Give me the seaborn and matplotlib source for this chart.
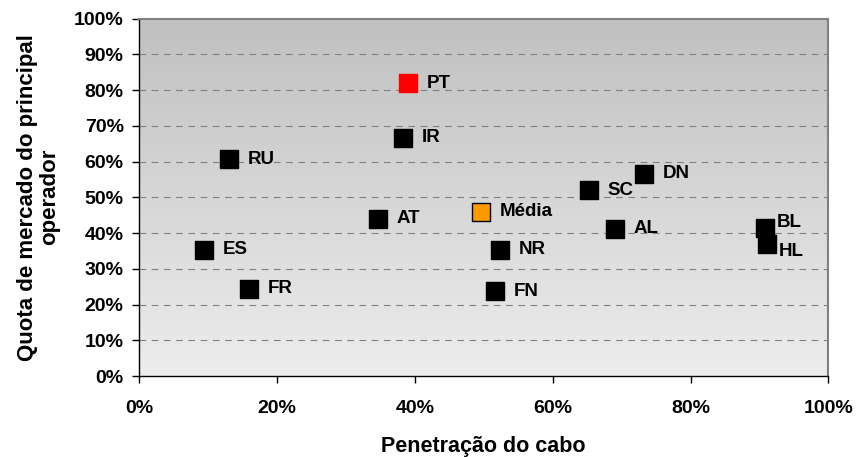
import numpy as np
import pandas as pd
import matplotlib
matplotlib.use('Agg')
import matplotlib.pyplot as plt
from matplotlib.ticker import PercentFormatter
import seaborn as sns

# data
paises = ["PT", "IR", "RU", "AT", "Média", "ES", "FR", "NR", "FN", "SC", "DN", "AL", "BL", "HL"]
penetracao = [0.390, 0.383, 0.131, 0.346, 0.496, 0.094, 0.160, 0.524, 0.517, 0.653, 0.732, 0.690, 0.908, 0.911]
quota = [0.819, 0.667, 0.606, 0.440, 0.460, 0.354, 0.244, 0.354, 0.238, 0.520, 0.566, 0.412, 0.415, 0.369]
grupo = ["PT", "Outros", "Outros", "Outros", "Média", "Outros", "Outros", "Outros", "Outros",
         "Outros", "Outros", "Outros", "Outros", "Outros"]

df = pd.DataFrame({"pais": paises, "x": penetracao, "y": quota, "grupo": grupo})

sns.set_style("white")
plt.rcParams['font.family'] = ['Liberation Sans', 'DejaVu Sans']
plt.rcParams['font.weight'] = 'bold'
plt.rcParams['text.color'] = 'black'
plt.rcParams['axes.labelcolor'] = 'black'
plt.rcParams['xtick.color'] = 'black'
plt.rcParams['ytick.color'] = 'black'

fig = plt.figure(figsize=(8.58, 4.57), dpi=100)
ax = fig.add_axes([0.162, 0.177, 0.8035, 0.7825])

# gradient background (dark grey on top -> light grey at the bottom)
grad = np.linspace(0, 1, 256).reshape(-1, 1)
cmap = matplotlib.colors.LinearSegmentedColormap.from_list("bg", ["#ededed", "#c0c0c0"])
ax.imshow(grad, extent=[0, 1, 0, 1], origin='lower', aspect='auto', cmap=cmap,
          transform=ax.transAxes, zorder=0)

palette = {"Outros": "black", "PT": "#ff0000", "Média": "#ff9900"}
edges = {"Outros": "black", "PT": "#ff0000", "Média": "black"}
for g in ["Outros", "PT", "Média"]:
    sub = df[df["grupo"] == g]
    sns.scatterplot(data=sub, x="x", y="y", ax=ax, marker="s", s=170,
                    color=palette[g], edgecolor=edges[g], linewidth=1.0,
                    zorder=3, legend=False)

# label offsets in points
offsets = {"BL": (8.5, 3.5), "HL": (8.5, -5.5)}
for _, r in df.iterrows():
    dx, dy = offsets.get(r["pais"], (13.5, 0))
    ax.annotate(r["pais"], (r["x"], r["y"]), xytext=(dx, dy), textcoords="offset points",
                ha="left", va="center", fontsize=13.5, fontweight="bold", zorder=4)

ax.set_xlim(0, 1)
ax.set_ylim(0, 1)
ax.set_xticks(np.arange(0, 1.01, 0.2))
ax.set_yticks(np.arange(0, 1.01, 0.1))
ax.xaxis.set_major_formatter(PercentFormatter(1.0, decimals=0))
ax.yaxis.set_major_formatter(PercentFormatter(1.0, decimals=0))

for yv in np.arange(0.1, 0.95, 0.1):
    ax.axhline(yv, color="#808080", lw=0.8, ls=(0, (6, 5)), zorder=1)

ax.tick_params(axis="both", direction="out", length=5, width=1, color="black",
               labelsize=14)
ax.tick_params(axis="x", bottom=True, pad=12)
ax.tick_params(axis="y", left=True, pad=6)

for s in ["left", "bottom"]:
    ax.spines[s].set_color("black")
    ax.spines[s].set_linewidth(1.0)
for s in ["top", "right"]:
    ax.spines[s].set_color("#808080")
    ax.spines[s].set_linewidth(1.5)

ax.set_xlabel("Penetração do cabo", fontsize=15.5, fontweight="bold", labelpad=14)
ax.set_ylabel("Quota de mercado do principal\noperador", fontsize=16,
              fontweight="bold", labelpad=10, linespacing=1.05)

fig.savefig("out.png", dpi=100)
